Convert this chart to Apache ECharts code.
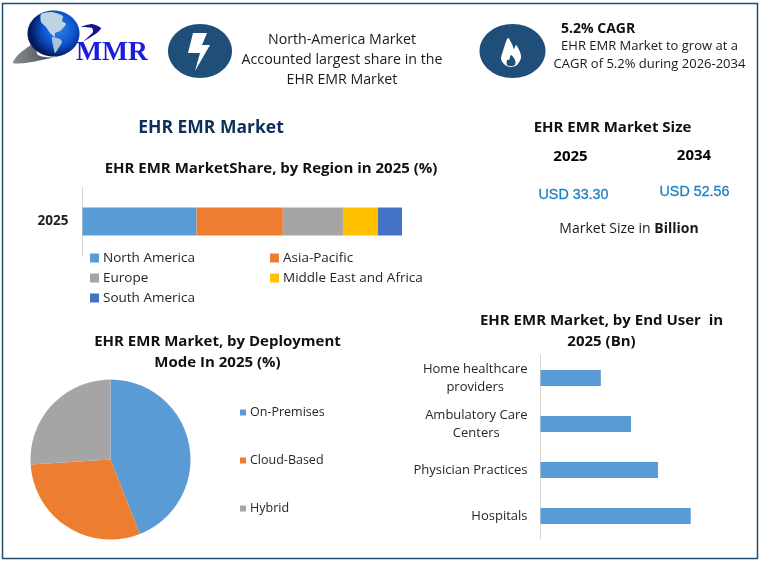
<!DOCTYPE html>
<html><head><meta charset="utf-8">
<style>html,body{margin:0;padding:0;background:#fff}#c{width:761px;height:561px}</style>
<script src="https://cdn.jsdelivr.net/npm/echarts@6/dist/echarts.min.js"></script>
</head><body><div id="c"></div>
<script>
const regionYear = ['2025'];
const regionNames = ['North America','Asia-Pacific','Europe','Middle East and Africa','South America'];
const regionValues = [35.7,27.0,18.8,11.0,7.5];
const regionColors = ['#5b9bd5','#ed7d31','#a5a5a5','#ffc000','#4472c4'];
const deployNames = ['On-Premises','Cloud-Based','Hybrid'];
const deployValues = [44,30,26];
const deployColors = ['#5b9bd5','#ed7d31','#a5a5a5'];
const userNames = ['Hospitals','Physician Practices','Ambulatory Care\nCenters','Home healthcare\nproviders'];
const userValues = [11.95,9.35,7.2,4.8];
const SANS = '"Open Sans"';
const INK = '#1a1a1a';
function txt(x,y,text,size,weight,color,family,extra){
  return {type:'text',x:x,y:y+1.2,silent:true,style:Object.assign({text:text,fontSize:size,fontWeight:weight||'normal',fontFamily:family||SANS,fill:color||INK,textAlign:'center',textVerticalAlign:'middle'},extra||{})};
}
function blob(points,fill,smooth){
  return {type:'polygon',shape:{points:points,smooth:smooth===undefined?0.4:smooth},style:{fill:fill}};
}
const chart = echarts.init(document.getElementById('c'),null,{renderer:'canvas'});
const swooshFill = new echarts.graphic.LinearGradient(0,0,1,0,[{offset:0,color:'#8a8d90'},{offset:0.5,color:'#55585c'},{offset:1,color:'#9a9da0'}]);
const graphics = [
  {type:'rect',shape:{x:2.5,y:3.5,width:755,height:555},style:{fill:'#fff',stroke:'#1f4e6f',lineWidth:1.5},z:-10},
  blob([[13,63],[18,55],[28,47],[35,43],[38,55],[55,57],[77,45],[62,55],[42,60],[25,63]],swooshFill,0.25),
  {type:'ellipse',shape:{cx:53.5,cy:33.5,rx:26,ry:23},style:{fill:new echarts.graphic.RadialGradient(0.6,0.4,0.62,[{offset:0,color:'#2f86ea'},{offset:0.6,color:'#0e4fc8'},{offset:1,color:'#041a5c'}])}},
  blob([[41,14],[52,12],[63,16],[62,21],[66,24],[60,31],[55,33],[55,37],[50,33],[46,27],[41,22]],'#bcd4e4',0.2),
  blob([[52,37],[60,39],[62,42],[58,49],[55,53],[53,45]],'#a9c6d8',0.2),
  blob([[81,27],[92,24],[101,28],[97,33],[84,41],[93,32],[92,28]],'#14148f',0.2),
  txt(112,51.5,'MMR',27.5,'bold','#1c1cdc','"Liberation Serif"'),
  {type:'ellipse',shape:{cx:200,cy:51,rx:32,ry:27},style:{fill:'#1f4e79'}},
  {type:'polygon',shape:{points:[[193,33],[207,33],[202,45],[210,45],[195,71],[200,53],[188,53]]},style:{fill:'#fff'}},
  {type:'ellipse',shape:{cx:512.5,cy:51,rx:33,ry:27},style:{fill:'#1f4e79'}},
  blob([[508,38],[512,44],[514,49],[516,45],[520,52],[521,58],[517,65],[511,67],[505,65],[501,59],[503,51]],'#fff',0.3),
  blob([[511,55],[515,60],[515,65],[511,66],[507,65],[507,60],[509,60]],'#1f4e79',0.3),
  txt(342,38.5,'North-America Market',14.2),
  txt(342,58.5,'Accounted largest share in the',14.2),
  txt(342,78.5,'EHR EMR Market',14.2),
  txt(561,27.5,'5.2% CAGR',14,'bold','#111',null,{textAlign:'left'}),
  txt(649.5,45.5,'EHR EMR Market to grow at a',13),
  txt(649.5,63.5,'CAGR of 5.2% during 2026-2034',13),
  txt(211,127,'EHR EMR Market',17.5,'bold','#0e2f5a'),
  txt(612.5,127,'EHR EMR Market Size',15,'bold','#111'),
  txt(570.5,156,'2025',15,'bold','#000'),
  txt(694,155,'2034',15,'bold','#000'),
  txt(573.5,193.5,'USD 33.30',14.3,'normal','#1f7fc1','"Liberation Sans"',{stroke:'#1f7fc1',lineWidth:0.3}),
  txt(694.5,190.5,'USD 52.56',14.3,'normal','#1f7fc1','"Liberation Sans"',{stroke:'#1f7fc1',lineWidth:0.3}),
  {type:'text',x:629,y:229.5,silent:true,style:{text:'{a|Market Size in }{b|Billion}',textAlign:'center',textVerticalAlign:'middle',rich:{a:{fontSize:14,fontFamily:SANS,fill:INK},b:{fontSize:14,fontWeight:'bold',fontFamily:SANS,fill:INK}}}},
  txt(271,168,'EHR EMR MarketShare, by Region in 2025 (%)',15,'bold','#111'),
  txt(217.5,341,'EHR EMR Market, by Deployment',15,'bold','#111'),
  txt(217.5,362,'Mode In 2025 (%)',15,'bold','#111'),
  txt(601.5,320,'EHR EMR Market, by End User  in',15,'bold','#111'),
  txt(601.5,341,'2025 (Bn)',15,'bold','#111')
];
const legendBase = {orient:'vertical',itemWidth:9,itemHeight:9,icon:'rect',selectedMode:false,padding:0,
  textStyle:{fontFamily:SANS,fontSize:13.5,color:'#262626',padding:[0,0,0,-1]}};
chart.setOption({
  animation:false,
  backgroundColor:'#fff',
  graphic:{elements:graphics},
  grid:[
    {left:82.5,top:187,width:319.5,height:69,containLabel:false},
    {left:540.5,top:355,width:176,height:184,containLabel:false}
  ],
  xAxis:[
    {gridIndex:0,type:'value',min:0,max:100,show:false},
    {gridIndex:1,type:'value',min:0,max:14,show:false}
  ],
  yAxis:[
    {gridIndex:0,type:'category',data:regionYear,axisTick:{show:false},axisLine:{lineStyle:{color:'#d4d4d4'}},
     axisLabel:{margin:14,fontFamily:SANS,fontSize:13.5,fontWeight:'bold',color:'#222'}},
    {gridIndex:1,type:'category',data:userNames,axisTick:{show:false},axisLine:{lineStyle:{color:'#d4d4d4'}},
     axisLabel:{margin:13,fontFamily:SANS,fontSize:13,color:'#262626',lineHeight:18,
       formatter:v=>v.split('\n').map(l=>'{c|'+l+'}').join('\n'),
       rich:{c:{align:'center',fontFamily:SANS,fontSize:13,color:'#262626',lineHeight:18}}}}
  ],
  legend:[
    Object.assign({},legendBase,{left:90,top:251,itemGap:6,data:['North America','Europe','South America']}),
    Object.assign({},legendBase,{left:270,top:251,itemGap:6,data:['Asia-Pacific','Middle East and Africa']}),
    Object.assign({},legendBase,{left:240,top:406,itemGap:35,itemWidth:6,itemHeight:6,textStyle:{fontFamily:SANS,fontSize:12.5,color:'#262626',padding:[0,0,0,-1]},data:deployNames})
  ],
  series:[
    ...regionNames.map((n,i)=>({type:'bar',name:n,stack:'r',xAxisIndex:0,yAxisIndex:0,barWidth:28,
      itemStyle:{color:regionColors[i]},data:[regionValues[i]]})),
    {type:'pie',name:'Deployment',center:[110.5,459.5],radius:[0,80],startAngle:90,clockwise:true,
     label:{show:false},labelLine:{show:false},
     data:deployNames.map((n,i)=>({name:n,value:deployValues[i],itemStyle:{color:deployColors[i]}}))},
    {type:'bar',name:'End User',xAxisIndex:1,yAxisIndex:1,barWidth:16,itemStyle:{color:'#5b9bd5'},data:userValues}
  ]
});
</script></body></html>
